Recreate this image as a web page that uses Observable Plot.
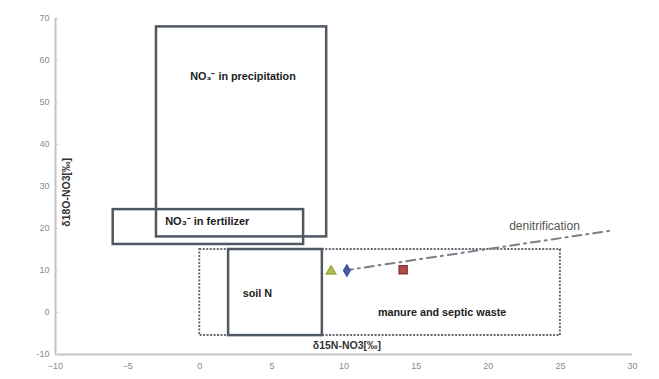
<!DOCTYPE html>
<html>
<head>
<meta charset="utf-8">
<script src="https://cdn.jsdelivr.net/npm/d3@7"></script>
<script src="https://cdn.jsdelivr.net/npm/@observablehq/plot@0.6"></script>
<style>
  html, body { margin: 0; padding: 0; background: #fff; }
  #chart svg { display: block; }
</style>
</head>
<body>
<div id="chart"></div>
<script>
// Source fields (δ15N vs δ18O of nitrate), as boxes
const boxNames = ["precipitation", "fertilizer", "soil", "manure"];
const boxX1 = [-3, -6, 2, 0];
const boxX2 = [8.8, 7.2, 8.5, 25];
const boxY1 = [18, 16.2, -5.5, -5.5];
const boxY2 = [68, 24.5, 15, 15];

// Box labels
const labelText = ["NO₃⁻ in precipitation", "NO₃⁻ in fertilizer", "soil N", "manure and septic waste"];
const labelX = [3, -2.4, 4, 16.8];
const labelY = [56.2, 21.7, 4.4, 0];

// Sample points
const sampleNames = ["A", "B", "C"];
const sampleX = [9.1, 10.2, 14.1];
const sampleY = [9.8, 10, 10.2];

// Denitrification trend
const trendX = [10, 28.5];
const trendY = [10, 19.5];

// Axis ticks
const xTicks = [-10, -5, 0, 5, 10, 15, 20, 25, 30];
const yTicks = [-10, 0, 10, 20, 30, 40, 50, 60, 70];

const boxes = boxNames.map((name, i) => ({name, x1: boxX1[i], x2: boxX2[i], y1: boxY1[i], y2: boxY2[i]}));
const labels = labelText.map((text, i) => ({text, x: labelX[i], y: labelY[i]}));
const samples = sampleNames.map((name, i) => ({name, x: sampleX[i], y: sampleY[i]}));
const trend = trendX.map((x, i) => ({x, y: trendY[i]}));

const solidBoxes = boxes.filter(d => d.name !== "manure");
const dottedBoxes = boxes.filter(d => d.name === "manure");

const chart = Plot.plot({
  width: 659,
  height: 379,
  marginLeft: 55,
  marginRight: 27,
  marginTop: 18,
  marginBottom: 25,
  style: {fontFamily: "'Liberation Sans', Arial, sans-serif", background: "#fff"},
  x: {type: "linear", domain: [-10, 30]},
  y: {type: "linear", domain: [-10, 70]},
  marks: [
    // axis lines
    Plot.ruleX([-10], {stroke: "#c4c4c4", strokeWidth: 2}),
    Plot.ruleY([-10], {stroke: "#c4c4c4", strokeWidth: 2}),
    Plot.axisX({ticks: xTicks, tickSize: 0, tickPadding: 8, fontSize: 9, fill: "#8a8a8a", label: null}),
    Plot.axisY({ticks: yTicks, tickSize: -3, tickPadding: 9, fontSize: 9, fill: "#8a8a8a", stroke: "#d0d0d0", label: null, tickFormat: d => d, anchor: "left"}),
    // source fields
    Plot.rect(dottedBoxes, {x1: "x1", x2: "x2", y1: "y1", y2: "y2", fill: "none", stroke: "#656a71", strokeWidth: 2, strokeDasharray: "2,1.5"}),
    Plot.rect(solidBoxes, {x1: "x1", x2: "x2", y1: "y1", y2: "y2", fill: "none", stroke: "#505861", strokeWidth: 2.5}),
    // denitrification trend
    Plot.line(trend, {x: "x", y: "y", stroke: "#7a8088", strokeWidth: 2, strokeDasharray: "9,5,2,5"}),
    Plot.text(["denitrification"], {x: 23.9, y: 20.6, text: d => d, fontSize: 12, fill: "#555"}),
    // samples
    Plot.dot(samples.filter(d => d.name === "A"), {x: "x", y: "y", symbol: "triangle", r: 3.5, fill: "#b5bf58", stroke: "#9aa640"}),
    Plot.dot(samples.filter(d => d.name === "B"), {x: "x", y: "y", symbol: "diamond", r: 3.3, fill: "#4d63ad", stroke: "#3d4f95"}),
    Plot.dot(samples.filter(d => d.name === "C"), {x: "x", y: "y", symbol: "square", r: 4.5, fill: "#b44b4b", stroke: "#8a3535"}),
    // field labels
    Plot.text(labels.filter(d => d.text.startsWith("NO₃⁻ in f")), {x: "x", y: "y", text: "text", textAnchor: "start", fontSize: 11, fontWeight: "bold", fill: "#222"}),
    Plot.text(labels.filter(d => !d.text.startsWith("NO₃⁻ in f")), {x: "x", y: "y", text: "text", fontSize: 10.8, fontWeight: "bold", fill: "#222"}),
    // axis titles
    Plot.text(["δ15N-NO3[‰]"], {x: 10.2, y: -7.9, text: d => d, fontSize: 10.5, fontWeight: "bold", fill: "#333"}),
    Plot.text(["δ18O-NO3[‰]"], {x: -9.2, y: 28.6, text: d => d, fontSize: 10.5, fontWeight: "bold", fill: "#333", rotate: -90})
  ]
});

document.getElementById("chart").append(chart);
</script>
</body>
</html>
